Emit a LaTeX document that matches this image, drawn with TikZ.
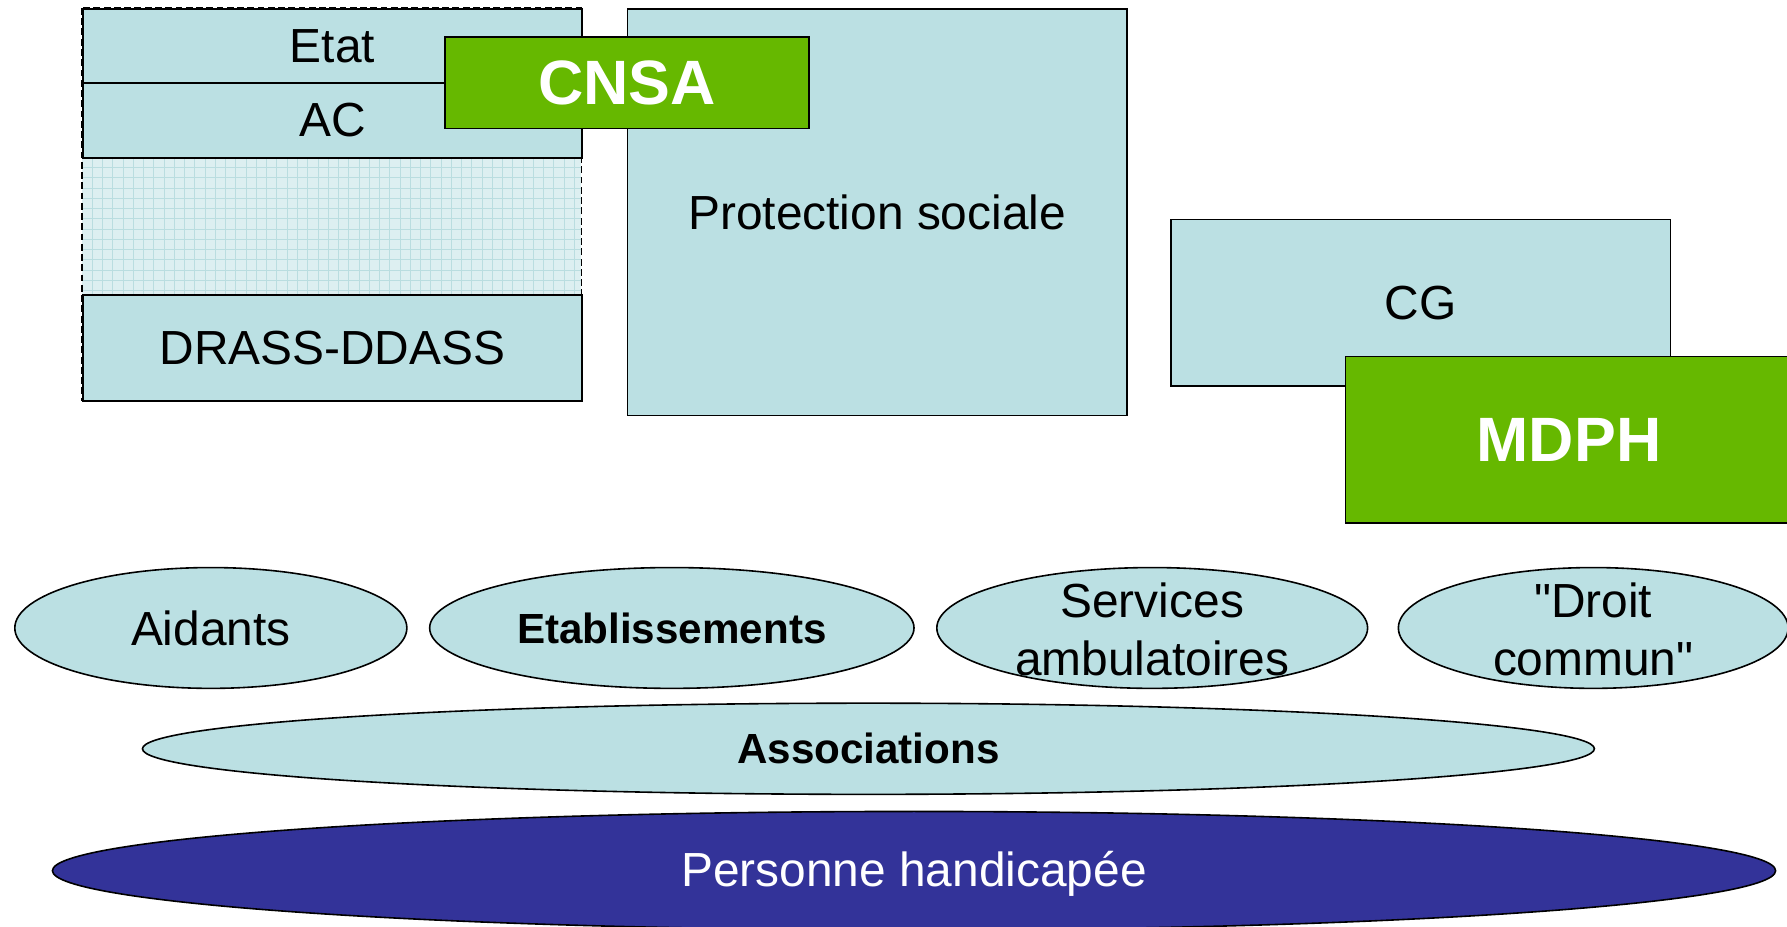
\documentclass[tikz,border=0pt]{standalone}
\usepackage{fontspec}
\setmainfont{Liberation Sans}
\usetikzlibrary{shapes.geometric}
\definecolor{lb}{HTML}{BBE0E3}
\definecolor{hatchbg}{HTML}{DDEFF1}
\definecolor{hatchline}{HTML}{BADDE0}
\definecolor{grn}{HTML}{66B800}
\definecolor{navy}{HTML}{333399}
\tikzset{
  lbbox/.style={draw=black,line width=1.4pt,fill=lb,inner sep=0pt,anchor=north west,font=\fontsize{42}{50}\selectfont},
  gbox/.style={draw=black,line width=1.4pt,fill=grn,inner sep=0pt,anchor=north west,text=white,font=\fontsize{55}{60}\selectfont\bfseries},
  ell/.style={ellipse,draw=black,line width=1.4pt,fill=lb,inner sep=0pt},
  elltxt/.style={align=center,inner sep=0pt,font=\fontsize{42}{51}\selectfont},
  grp/.style={draw=black,line width=1.2pt,dashed,dash pattern=on 6pt off 3pt},
}
\begin{document}
\begin{tikzpicture}[x=1pt,y=-1pt]
\useasboundingbox (0,0) rectangle (1568,813);
% left group
\fill[white] (72,7) rectangle (510,351);
\fill[hatchbg] (72,138) rectangle (510,258);
\foreach \gx in {81,90,...,510} \draw[hatchline,line width=0.8pt] (\gx,138) -- (\gx,258);
\foreach \gy in {147,156,...,258} \draw[hatchline,line width=0.8pt] (72,\gy) -- (510,\gy);
\draw[grp] (72,7) rectangle (510,351);
\node[lbbox,minimum width=438,minimum height=65] (etat) at (72,7) {Etat};
\node[lbbox,minimum width=438,minimum height=66] (ac) at (72,72) {AC};
\node[lbbox,minimum width=438,minimum height=93] (drass) at (72,258) {DRASS-DDASS};
% protection sociale
\node[lbbox,minimum width=438,minimum height=357] (prot) at (550,7) {Protection sociale};
\node[gbox,minimum width=319,minimum height=80] (cnsa) at (390,32) {CNSA};
% CG / MDPH
\node[lbbox,minimum width=438,minimum height=146] (cg) at (1027,192) {CG};
\node[gbox,minimum width=392,minimum height=146] (mdph) at (1180,312) {MDPH};
% ellipses
\node[ell,minimum width=344,minimum height=106] (aidants) at (185,551) {};
\node[elltxt] (aidantsT) at (aidants.center) {Aidants};
\node[ell,minimum width=425,minimum height=106] (etab) at (589.5,551) {};
\node[elltxt,font=\fontsize{37}{45}\selectfont\bfseries] (etabT) at (etab.center) {Etablissements};
\node[ell,minimum width=378,minimum height=106] (serv) at (1011,551) {};
\node[elltxt] (servT) at ([yshift=-1pt]serv.center) {Services\\ambulatoires};
\node[ell,minimum width=342,minimum height=106] (droit) at (1398,551) {};
\node[elltxt] (droitT) at ([yshift=-1pt]droit.center) {\textquotedbl Droit\\commun\textquotedbl};
\node[ell,minimum width=1274,minimum height=80] (assoc) at (762,657) {};
\node[elltxt,font=\fontsize{37}{45}\selectfont\bfseries] (assocT) at (assoc.center) {Associations};
\node[ell,fill=navy,minimum width=1512,minimum height=104] (pers) at (802,764) {};
\node[elltxt,text=white] (persT) at ([yshift=-3pt]pers.center) {Personne handicapée};
\end{tikzpicture}
\end{document}
